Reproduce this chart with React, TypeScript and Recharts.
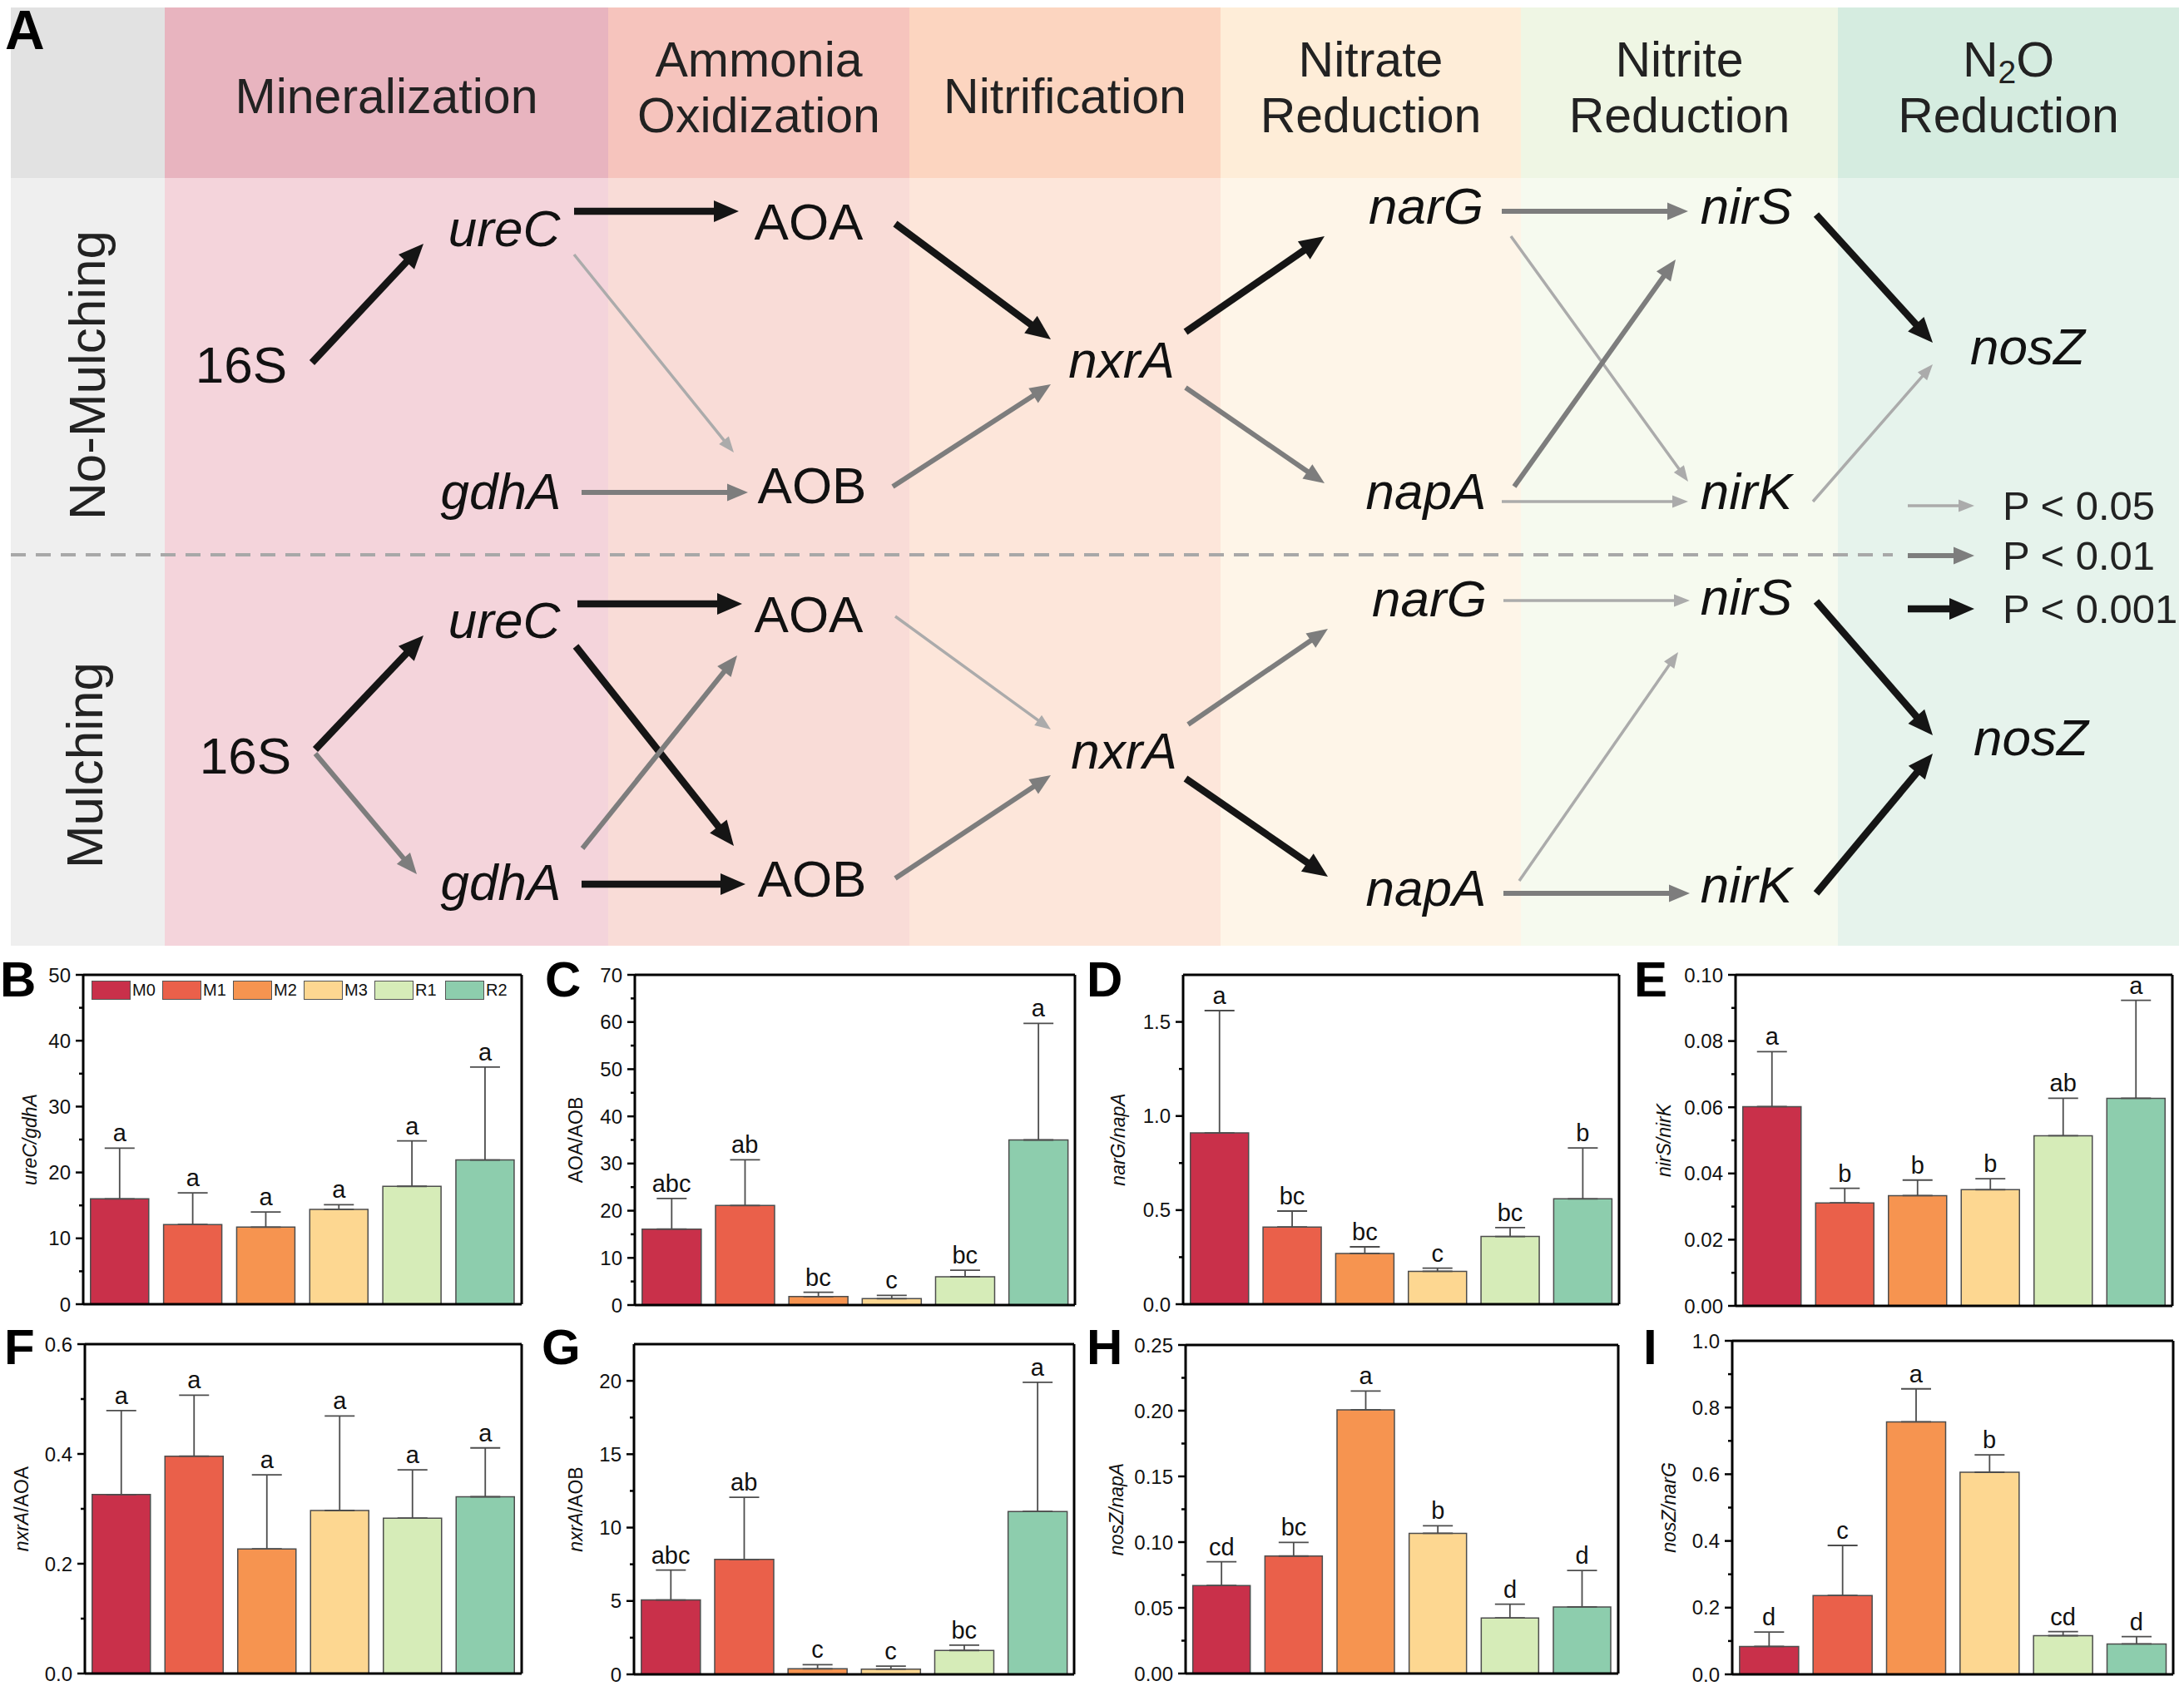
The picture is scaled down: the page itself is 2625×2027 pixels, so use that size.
import React from "react";
import {
  ComposedChart,
  ScatterChart,
  Scatter,
  Bar,
  Cell,
  ErrorBar,
  XAxis,
  YAxis,
  ReferenceArea,
  ReferenceLine,
  Legend,
} from "recharts";

// Figure: N-cycle gene network (A) + gene ratio bar panels (B–I).

const FONT = '"Liberation Sans", Arial, Helvetica, sans-serif';

// ---------------------------------------------------------------------------
// Panel A data
// ---------------------------------------------------------------------------

const STAGE_NAMES = [
  ["Mineralization"],
  ["Ammonia", "Oxidization"],
  ["Nitrification"],
  ["Nitrate", "Reduction"],
  ["Nitrite", "Reduction"],
  ["N2O", "Reduction"],
];
const ROW_NAMES = ["No-Mulching", "Mulching"];
const GENES = ["16S", "ureC", "gdhA", "AOA", "AOB", "nxrA", "narG", "napA", "nirS", "nirK", "nosZ"];
const UPRIGHT_GENES = ["16S", "AOA", "AOB"];

// significance: 1 = P < 0.05, 2 = P < 0.01, 3 = P < 0.001
const LINKS_NO_MULCH = [
  ["16S", "ureC", 3],
  ["ureC", "AOA", 3],
  ["ureC", "AOB", 1],
  ["gdhA", "AOB", 2],
  ["AOA", "nxrA", 3],
  ["AOB", "nxrA", 2],
  ["nxrA", "narG", 3],
  ["nxrA", "napA", 2],
  ["narG", "nirS", 2],
  ["narG", "nirK", 1],
  ["napA", "nirS", 2],
  ["napA", "nirK", 1],
  ["nirS", "nosZ", 3],
  ["nirK", "nosZ", 1],
];
const LINKS_MULCH = [
  ["16S", "ureC", 3],
  ["16S", "gdhA", 2],
  ["ureC", "AOA", 3],
  ["ureC", "AOB", 3],
  ["gdhA", "AOA", 2],
  ["gdhA", "AOB", 3],
  ["AOA", "nxrA", 1],
  ["AOB", "nxrA", 2],
  ["nxrA", "narG", 2],
  ["nxrA", "napA", 3],
  ["narG", "nirS", 1],
  ["napA", "nirS", 1],
  ["napA", "nirK", 2],
  ["nirS", "nosZ", 3],
  ["nirK", "nosZ", 3],
];
const SIG_NAMES = ["P < 0.05", "P < 0.01", "P < 0.001"];

// ---------------------------------------------------------------------------
// Panel A layout (diagram units)
// ---------------------------------------------------------------------------

const DIAGRAM_W = 2625;
const DIAGRAM_H = 1145;
const LABEL_COL = [13, 198];
const STAGE_EDGES = [198, 731, 1093, 1467, 1828, 2209, 2619];
const HEAD_Y = [9, 214];
const BODY_Y = [214, 1137];
const DIVIDER_Y = 667;
const HEAD_TEXT_Y = [116, 105]; // one-line, two-line header centres

const ROW_NAME_XY = [
  [104, 451],
  [101, 920],
];
const NODE_XY_NO_MULCH = [
  [290, 438], [606, 274], [602, 590], [972, 266], [976, 583], [1348, 432],
  [1714, 247], [1714, 590], [2099, 247], [2099, 590], [2437, 416],
];
const NODE_XY_MULCH = [
  [295, 908], [606, 745], [602, 1060], [972, 738], [976, 1056], [1351, 902],
  [1718, 719], [1714, 1067], [2099, 717], [2099, 1063], [2441, 886],
];
const ARROWS_NO_MULCH = [
  [375, 436, 509, 293],
  [690, 254, 888, 254],
  [690, 306, 882, 544],
  [699, 592, 899, 592],
  [1076, 269, 1263, 408],
  [1073, 585, 1263, 462],
  [1425, 399, 1592, 284],
  [1425, 466, 1592, 581],
  [1805, 254, 2029, 254],
  [1816, 284, 2029, 579],
  [1820, 585, 2014, 312],
  [1805, 603, 2029, 603],
  [2183, 258, 2323, 412],
  [2179, 603, 2323, 438],
];
const ARROWS_MULCH = [
  [379, 901, 509, 764],
  [379, 906, 501, 1051],
  [694, 726, 892, 726],
  [692, 777, 882, 1017],
  [700, 1020, 886, 788],
  [699, 1063, 896, 1063],
  [1076, 741, 1263, 877],
  [1076, 1056, 1263, 932],
  [1428, 871, 1596, 756],
  [1425, 936, 1596, 1054],
  [1807, 722, 2031, 722],
  [1826, 1059, 2017, 784],
  [1807, 1074, 2031, 1074],
  [2183, 723, 2323, 884],
  [2183, 1074, 2323, 906],
];
const SIG_KEY_Y = [608, 668, 732];
const SIG_KEY_X = [2293, 2373, 2407];

const LABEL_FILLS = ["#E2E2E2", "#EFEFEF"];
const STAGE_HEAD_FILLS = ["#E8B4BF", "#F6C4BD", "#FCD5C0", "#FEEDD8", "#EFF6E4", "#D5ECE0"];
const STAGE_BODY_FILLS = ["#F4D4DB", "#F9DCD7", "#FDE6DA", "#FEF5E8", "#F6FAEF", "#E6F3EC"];

const ARROW_STYLE: Record<number, { color: string; width: number; head: number; half: number }> = {
  1: { color: "#ABABAB", width: 3.5, head: 19, half: 7.5 },
  2: { color: "#7D7D7D", width: 6, head: 25, half: 10.5 },
  3: { color: "#151515", width: 8.5, head: 30, half: 13 },
};

// ---------------------------------------------------------------------------
// Ratio panels data (B–I)
// ---------------------------------------------------------------------------

const TREATMENTS = ["M0", "M1", "M2", "M3", "R1", "R2"];
const BAR_COLORS = ["#C9304A", "#EA604A", "#F69450", "#FDD791", "#D6ECB8", "#8DCDAD"];

const UREC_GDHA = [16.0, 12.1, 11.7, 14.4, 17.9, 21.9];
const UREC_GDHA_SD = [7.7, 4.8, 2.3, 0.7, 6.9, 14.1];
const UREC_GDHA_SIG = ["a", "a", "a", "a", "a", "a"];

const AOA_AOB = [16.1, 21.1, 1.8, 1.35, 6.0, 35.0];
const AOA_AOB_SD = [6.5, 9.7, 0.9, 0.7, 1.4, 24.7];
const AOA_AOB_SIG = ["abc", "ab", "bc", "c", "bc", "a"];

const NARG_NAPA = [0.91, 0.41, 0.27, 0.175, 0.36, 0.56];
const NARG_NAPA_SD = [0.65, 0.085, 0.035, 0.017, 0.047, 0.27];
const NARG_NAPA_SIG = ["a", "bc", "bc", "c", "bc", "b"];

const NIRS_NIRK = [0.0602, 0.0311, 0.0333, 0.0351, 0.0514, 0.0627];
const NIRS_NIRK_SD = [0.0166, 0.0044, 0.0047, 0.0033, 0.0113, 0.0296];
const NIRS_NIRK_SIG = ["a", "b", "b", "b", "ab", "a"];

const NXRA_AOA = [0.326, 0.396, 0.227, 0.297, 0.283, 0.322];
const NXRA_AOA_SD = [0.153, 0.111, 0.135, 0.172, 0.088, 0.089];
const NXRA_AOA_SIG = ["a", "a", "a", "a", "a", "a"];

const NXRA_AOB = [5.07, 7.83, 0.38, 0.36, 1.63, 11.1];
const NXRA_AOB_SD = [2.03, 4.23, 0.28, 0.2, 0.36, 8.8];
const NXRA_AOB_SIG = ["abc", "ab", "c", "c", "bc", "a"];

const NOSZ_NAPA = [0.067, 0.0894, 0.2007, 0.1067, 0.0423, 0.0507];
const NOSZ_NAPA_SD = [0.018, 0.0103, 0.0142, 0.0057, 0.0105, 0.0277];
const NOSZ_NAPA_SIG = ["cd", "bc", "a", "b", "d", "d"];

const NOSZ_NARG = [0.0838, 0.2365, 0.757, 0.606, 0.116, 0.0913];
const NOSZ_NARG_SD = [0.043, 0.15, 0.099, 0.052, 0.012, 0.022];
const NOSZ_NARG_SIG = ["d", "c", "a", "b", "cd", "d"];

// tick values (major labelled, minor unlabelled)
const TICKS_B = [0, 10, 20, 30, 40, 50];
const MINOR_B = [5, 15, 25, 35, 45];
const TICKS_C = [0, 10, 20, 30, 40, 50, 60, 70];
const MINOR_C = [5, 15, 25, 35, 45, 55, 65];
const TICKS_D = [0, 0.5, 1.0, 1.5];
const MINOR_D = [0.25, 0.75, 1.25];
const TICKS_E = [0, 0.02, 0.04, 0.06, 0.08, 0.1];
const MINOR_E = [0.01, 0.03, 0.05, 0.07, 0.09];
const TICKS_F = [0, 0.2, 0.4, 0.6];
const MINOR_F = [0.1, 0.3, 0.5];
const TICKS_G = [0, 5, 10, 15, 20];
const MINOR_G = [2.5, 7.5, 12.5, 17.5];
const TICKS_H = [0, 0.05, 0.1, 0.15, 0.2, 0.25];
const MINOR_H = [0.025, 0.075, 0.125, 0.175, 0.225];
const TICKS_I = [0, 0.2, 0.4, 0.6, 0.8, 1.0];
const MINOR_I = [0.1, 0.3, 0.5, 0.7, 0.9];

// axis titles: [text, italic]
const TITLE_B: [string, boolean][] = [["ureC/gdhA", true]];
const TITLE_C: [string, boolean][] = [["AOA/AOB", false]];
const TITLE_D: [string, boolean][] = [["narG/napA", true]];
const TITLE_E: [string, boolean][] = [["nirS/nirK", true]];
const TITLE_F: [string, boolean][] = [["nxrA", true], ["/AOA", false]];
const TITLE_G: [string, boolean][] = [["nxrA", true], ["/AOB", false]];
const TITLE_H: [string, boolean][] = [["nosZ/napA", true]];
const TITLE_I: [string, boolean][] = [["nosZ/narG", true]];

// plot frames [left, top, right, bottom] on the page
const FRAME_B = [100, 1172, 627, 1568];
const FRAME_C = [763, 1172, 1292, 1569];
const FRAME_D = [1422, 1172, 1946, 1568];
const FRAME_E = [2086, 1172, 2611, 1570];
const FRAME_F = [102, 1616, 627, 2012];
const FRAME_G = [762, 1616, 1291, 2013];
const FRAME_H = [1425, 1617, 1945, 2012];
const FRAME_I = [2082, 1612, 2612, 2013];

const PANELS = [
  { tag: "B", mean: UREC_GDHA, sd: UREC_GDHA_SD, sig: UREC_GDHA_SIG, max: 50, major: TICKS_B, minor: MINOR_B, digits: 0, title: TITLE_B, frame: FRAME_B, titleGap: 64, legend: true },
  { tag: "C", mean: AOA_AOB, sd: AOA_AOB_SD, sig: AOA_AOB_SIG, max: 70, major: TICKS_C, minor: MINOR_C, digits: 0, title: TITLE_C, frame: FRAME_C, titleGap: 71 },
  { tag: "D", mean: NARG_NAPA, sd: NARG_NAPA_SD, sig: NARG_NAPA_SIG, max: 1.75, major: TICKS_D, minor: MINOR_D, digits: 1, title: TITLE_D, frame: FRAME_D, titleGap: 78 },
  { tag: "E", mean: NIRS_NIRK, sd: NIRS_NIRK_SD, sig: NIRS_NIRK_SIG, max: 0.1, major: TICKS_E, minor: MINOR_E, digits: 2, title: TITLE_E, frame: FRAME_E, titleGap: 86 },
  { tag: "F", mean: NXRA_AOA, sd: NXRA_AOA_SD, sig: NXRA_AOA_SIG, max: 0.6, major: TICKS_F, minor: MINOR_F, digits: 1, title: TITLE_F, frame: FRAME_F, titleGap: 76 },
  { tag: "G", mean: NXRA_AOB, sd: NXRA_AOB_SD, sig: NXRA_AOB_SIG, max: 22.5, major: TICKS_G, minor: MINOR_G, digits: 0, title: TITLE_G, frame: FRAME_G, titleGap: 70 },
  { tag: "H", mean: NOSZ_NAPA, sd: NOSZ_NAPA_SD, sig: NOSZ_NAPA_SIG, max: 0.25, major: TICKS_H, minor: MINOR_H, digits: 2, title: TITLE_H, frame: FRAME_H, titleGap: 83 },
  { tag: "I", mean: NOSZ_NARG, sd: NOSZ_NARG_SD, sig: NOSZ_NARG_SIG, max: 1.0, major: TICKS_I, minor: MINOR_I, digits: 1, title: TITLE_I, frame: FRAME_I, titleGap: 76 },
];

// panel letters: [letter, left, baseline, size]
const PANEL_TAGS: [string, number, number, number][] = [
  ["A", 6, 59, 66],
  ["B", 0, 1199, 60],
  ["C", 655, 1199, 60],
  ["D", 1306, 1199, 60],
  ["E", 1964, 1199, 60],
  ["F", 5, 1641, 60],
  ["G", 651, 1641, 60],
  ["H", 1306, 1641, 60],
  ["I", 1975, 1641, 60],
];

// ---------------------------------------------------------------------------
// Panel A renderers
// ---------------------------------------------------------------------------

function arrowShape(level: number) {
  const st = ARROW_STYLE[level];
  return (p: any) => {
    const { x1, y1, x2, y2 } = p;
    const dx = x2 - x1;
    const dy = y2 - y1;
    const len = Math.hypot(dx, dy) || 1;
    const ux = dx / len;
    const uy = dy / len;
    const nx = -uy;
    const ny = ux;
    const bx = x2 - ux * st.head;
    const by = y2 - uy * st.head;
    return (
      <g>
        <line x1={x1} y1={y1} x2={bx + ux * 3} y2={by + uy * 3} stroke={st.color} strokeWidth={st.width} />
        <polygon
          points={`${x2},${y2} ${bx + nx * st.half},${by + ny * st.half} ${bx - nx * st.half},${by - ny * st.half}`}
          fill={st.color}
        />
      </g>
    );
  };
}

const renderGene = (p: any) => (
  <text
    x={p.cx}
    y={p.cy}
    textAnchor="middle"
    dominantBaseline="central"
    fontFamily={FONT}
    fontSize={62}
    fontStyle={UPRIGHT_GENES.includes(p.payload.label) ? "normal" : "italic"}
    fill="#111"
  >
    {p.payload.label}
  </text>
);

const renderStageName = (p: any) => {
  const lines: string[] = p.payload.lines;
  const step = 67;
  const y0 = p.cy - ((lines.length - 1) * step) / 2;
  return (
    <g>
      {lines.map((ln, i) => (
        <text
          key={ln}
          x={p.cx}
          y={y0 + i * step}
          textAnchor="middle"
          dominantBaseline="central"
          fontFamily={FONT}
          fontSize={59}
          fill="#222"
        >
          {ln === "N2O" ? (
            <>
              <tspan>N</tspan>
              <tspan fontSize={39} dy={14}>2</tspan>
              <tspan dy={-14}>O</tspan>
            </>
          ) : (
            ln
          )}
        </text>
      ))}
    </g>
  );
};

const renderRowName = (p: any) => (
  <text
    x={p.cx}
    y={p.cy}
    textAnchor="middle"
    dominantBaseline="central"
    fontFamily={FONT}
    fontSize={62}
    fill="#222"
    transform={`rotate(-90 ${p.cx} ${p.cy})`}
  >
    {p.payload.label}
  </text>
);

const renderSigName = (p: any) => (
  <text x={p.cx} y={p.cy} dominantBaseline="central" fontFamily={FONT} fontSize={49} fill="#222">
    {p.payload.label}
  </text>
);

function PathwayPanel() {
  const stageRows = STAGE_NAMES.map((lines, i) => ({
    x: (STAGE_EDGES[i] + STAGE_EDGES[i + 1]) / 2,
    y: HEAD_TEXT_Y[lines.length - 1],
    lines,
  }));
  const rowRows = ROW_NAMES.map((label, i) => ({ x: ROW_NAME_XY[i][0], y: ROW_NAME_XY[i][1], label }));
  const geneRows = [
    ...GENES.map((label, i) => ({ x: NODE_XY_NO_MULCH[i][0], y: NODE_XY_NO_MULCH[i][1], label })),
    ...GENES.map((label, i) => ({ x: NODE_XY_MULCH[i][0], y: NODE_XY_MULCH[i][1], label })),
  ];
  const sigRows = SIG_NAMES.map((label, i) => ({ x: SIG_KEY_X[2], y: SIG_KEY_Y[i], label }));
  const arrows = [
    ...LINKS_NO_MULCH.map((l, i) => ({ level: l[2] as number, seg: ARROWS_NO_MULCH[i] })),
    ...LINKS_MULCH.map((l, i) => ({ level: l[2] as number, seg: ARROWS_MULCH[i] })),
    ...SIG_NAMES.map((_, i) => ({ level: i + 1, seg: [SIG_KEY_X[0], SIG_KEY_Y[i], SIG_KEY_X[1], SIG_KEY_Y[i]] })),
  ];

  return (
    <div style={{ position: "absolute", left: 0, top: 0 }}>
      <ScatterChart width={DIAGRAM_W} height={DIAGRAM_H} margin={{ top: 0, right: 0, bottom: 0, left: 0 }}>
        <XAxis type="number" dataKey="x" domain={[0, DIAGRAM_W]} hide height={0} allowDataOverflow />
        <YAxis type="number" dataKey="y" domain={[0, DIAGRAM_H]} reversed hide width={0} allowDataOverflow />

        <ReferenceArea x1={LABEL_COL[0]} x2={LABEL_COL[1]} y1={HEAD_Y[0]} y2={HEAD_Y[1]} fill={LABEL_FILLS[0]} fillOpacity={1} stroke="none" />
        <ReferenceArea x1={LABEL_COL[0]} x2={LABEL_COL[1]} y1={BODY_Y[0]} y2={BODY_Y[1]} fill={LABEL_FILLS[1]} fillOpacity={1} stroke="none" />
        {STAGE_NAMES.map((_, i) => (
          <ReferenceArea
            key={`h${i}`}
            x1={STAGE_EDGES[i]}
            x2={STAGE_EDGES[i + 1]}
            y1={HEAD_Y[0]}
            y2={HEAD_Y[1]}
            fill={STAGE_HEAD_FILLS[i]}
            fillOpacity={1}
            stroke="none"
          />
        ))}
        {STAGE_NAMES.map((_, i) => (
          <ReferenceArea
            key={`b${i}`}
            x1={STAGE_EDGES[i]}
            x2={STAGE_EDGES[i + 1]}
            y1={BODY_Y[0]}
            y2={BODY_Y[1]}
            fill={STAGE_BODY_FILLS[i]}
            fillOpacity={1}
            stroke="none"
          />
        ))}

        <ReferenceLine
          segment={[
            { x: LABEL_COL[0], y: DIVIDER_Y },
            { x: 2275, y: DIVIDER_Y },
          ]}
          stroke="#A8A8A8"
          strokeWidth={4}
          strokeDasharray="18 12"
        />

        {arrows.map((a, i) => (
          <ReferenceLine
            key={`a${i}`}
            segment={[
              { x: a.seg[0], y: a.seg[1] },
              { x: a.seg[2], y: a.seg[3] },
            ]}
            shape={arrowShape(a.level)}
          />
        ))}

        <Scatter data={stageRows} shape={renderStageName} isAnimationActive={false} />
        <Scatter data={rowRows} shape={renderRowName} isAnimationActive={false} />
        <Scatter data={geneRows} shape={renderGene} isAnimationActive={false} />
        <Scatter data={sigRows} shape={renderSigName} isAnimationActive={false} />
      </ScatterChart>
    </div>
  );
}

// ---------------------------------------------------------------------------
// Ratio panels
// ---------------------------------------------------------------------------

const YW = 110;
const MT = 30;
const MR = 10;
const MB = 30;

const renderTreatmentLegend = () => (
  <div style={{ display: "flex", fontFamily: FONT, fontSize: 20, color: "#111", lineHeight: "23px" }}>
    {TREATMENTS.map((t, i) => (
      <div key={t} style={{ display: "flex", alignItems: "center", width: 85 }}>
        <span
          style={{
            display: "inline-block",
            width: 47,
            height: 23,
            boxSizing: "border-box",
            border: "1.5px solid #555",
            background: BAR_COLORS[i],
          }}
        />
        <span style={{ marginLeft: 2 }}>{t}</span>
      </div>
    ))}
  </div>
);

function RatioPanel({ cfg }: { cfg: any }) {
  const rows = TREATMENTS.map((t, i) => ({
    name: t,
    mean: cfg.mean[i],
    err: [0, cfg.sd[i]],
    top: cfg.mean[i] + cfg.sd[i],
    sig: cfg.sig[i],
  }));
  const [fl, ft, fr, fb] = cfg.frame;
  // +1: the bottom x axis and the right y axis each take one pixel
  const width = fr - fl + YW + MR + 1;
  const height = fb - ft + MT + MB + 1;
  const allTicks = [...cfg.major, ...cfg.minor].sort((a: number, b: number) => a - b);

  const renderTick = (p: any) => {
    const v = p.payload.value;
    const isMajor = cfg.major.some((m: number) => Math.abs(m - v) < 1e-9);
    return (
      <g>
        <line x1={p.x} y1={p.y} x2={p.x - (isMajor ? 9 : 5)} y2={p.y} stroke="#000" strokeWidth={2.5} />
        {isMajor && (
          <text x={p.x - 15} y={p.y} dy="0.36em" textAnchor="end" fontFamily={FONT} fontSize={24} fill="#111">
            {v.toFixed(cfg.digits)}
          </text>
        )}
      </g>
    );
  };

  const renderTitle = (p: any) => {
    const vb = p.viewBox;
    const cx = vb.x + vb.width - cfg.titleGap;
    const cy = vb.y + vb.height / 2;
    return (
      <text
        x={cx}
        y={cy}
        textAnchor="middle"
        dominantBaseline="central"
        fontFamily={FONT}
        fontSize={23}
        fill="#111"
        transform={`rotate(-90 ${cx} ${cy})`}
      >
        {cfg.title.map(([s, it]: [string, boolean]) => (
          <tspan key={s} fontStyle={it ? "italic" : "normal"}>
            {s}
          </tspan>
        ))}
      </text>
    );
  };

  const renderSig = (p: any) => (
    <text x={p.cx} y={p.cy - 8} textAnchor="middle" fontFamily={FONT} fontSize={29} fill="#111">
      {p.payload.sig}
    </text>
  );

  return (
    <div style={{ position: "absolute", left: fl - YW, top: ft - MT }}>
      <ComposedChart
        width={width}
        height={height}
        data={rows}
        margin={{ top: MT, right: MR, bottom: MB, left: 0 }}
        barCategoryGap="10%"
      >
        <XAxis dataKey="name" tick={false} tickLine={false} height={1} axisLine={{ stroke: "#000", strokeWidth: 3 }} />
        <YAxis
          type="number"
          domain={[0, cfg.max]}
          ticks={allTicks}
          interval={0}
          width={YW}
          tickSize={0}
          tickMargin={0}
          tickLine={false}
          axisLine={{ stroke: "#000", strokeWidth: 3 }}
          tick={renderTick}
          label={renderTitle}
          allowDataOverflow
        />
        <YAxis
          yAxisId="r"
          orientation="right"
          type="number"
          domain={[0, cfg.max]}
          width={1}
          tick={false}
          tickLine={false}
          axisLine={{ stroke: "#000", strokeWidth: 3 }}
          allowDataOverflow
        />
        <ReferenceLine y={cfg.max} stroke="#000" strokeWidth={3} />
        {cfg.legend && (
          <Legend
            content={renderTreatmentLegend}
            layout="horizontal"
            align="center"
            verticalAlign="middle"
            wrapperStyle={{ left: 120, top: 7 + MT, width: 520, height: 25 }}
          />
        )}
        <Bar dataKey="mean" stroke="#4d4d4d" strokeWidth={1.5} isAnimationActive={false}>
          {rows.map((r, i) => (
            <Cell key={r.name} fill={BAR_COLORS[i]} />
          ))}
          <ErrorBar dataKey="err" direction="y" width={18} stroke="#4d4d4d" strokeWidth={1.8} isAnimationActive={false} />
        </Bar>
        <Scatter yAxisId="r" dataKey="top" shape={renderSig} isAnimationActive={false} />
      </ComposedChart>
    </div>
  );
}

// ---------------------------------------------------------------------------
// App
// ---------------------------------------------------------------------------

export default function App() {
  return (
    <div
      style={{
        position: "absolute",
        left: 0,
        top: 0,
        width: 2625,
        height: 2027,
        background: "#fff",
        overflow: "hidden",
        fontFamily: FONT,
      }}
    >
      <PathwayPanel />
      {PANELS.map((p) => (
        <RatioPanel key={p.tag} cfg={p} />
      ))}
      {PANEL_TAGS.map(([t, left, base, size]) => (
        <div
          key={t}
          style={{
            position: "absolute",
            left,
            top: base - 0.8465 * size,
            fontFamily: FONT,
            fontWeight: "bold",
            fontSize: size,
            lineHeight: `${size}px`,
            color: "#000",
          }}
        >
          {t}
        </div>
      ))}
    </div>
  );
}
